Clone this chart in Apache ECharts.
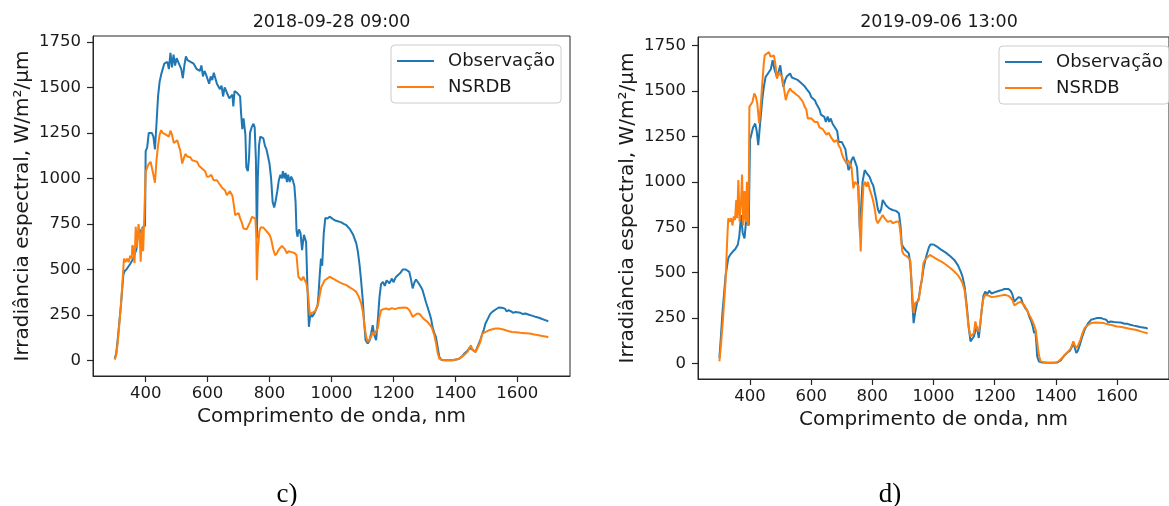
<!DOCTYPE html>
<html>
<head>
<meta charset="utf-8">
<script src="https://cdn.jsdelivr.net/npm/echarts@6/dist/echarts.min.js"></script>
<style>
html,body{margin:0;padding:0;background:#fff;}
#chart{width:1169px;height:506px;}
</style>
</head>
<body>
<div id="chart"></div>
<script>
// ---- Data ----
const titles = ['2018-09-28 09:00', '2019-09-06 13:00'];
const seriesNames = ['Observação', 'NSRDB'];
const panelLabels = ['c)', 'd)'];
const xTicks = [400, 600, 800, 1000, 1200, 1400, 1600];
const yTicks = [0, 250, 500, 750, 1000, 1250, 1500, 1750];

// Panel c) Observação
const obsC_nm = [300,305,310,320,328,332,340,350,360,370,375,380,385,390,395,398,400,405,410,415,420,425,430,435,440,445,450,455,460,465,470,475,480,485,490,495,500,505,510,515,520,525,530,535,540,545,550,555,560,565,570,575,580,585,590,595,600,605,610,615,620,625,630,635,640,645,650,655,660,665,670,675,680,683,687,690,695,700,705,708,712,716,720,722,725,730,734,737,742,748,752,756,759,762,766,770,775,780,785,790,795,800,805,810,815,820,825,830,835,840,843,848,852,856,860,865,870,875,880,884,887,890,895,900,905,908,911,915,918,922,927,932,937,945,950,955,958,962,966,970,975,980,987,994,1000,1010,1020,1030,1040,1048,1060,1070,1080,1085,1090,1095,1101,1105,1110,1117,1123,1128,1133,1138,1144,1150,1155,1160,1166,1172,1178,1187,1195,1200,1208,1215,1222,1230,1235,1240,1246,1251,1256,1262,1268,1273,1277,1283,1290,1294,1300,1305,1310,1318,1322,1326,1332,1337,1342,1348,1355,1370,1390,1410,1420,1430,1440,1445,1450,1455,1460,1465,1470,1475,1480,1487,1492,1497,1505,1512,1519,1530,1540,1550,1560,1565,1572,1580,1587,1594,1600,1610,1618,1626,1640,1650,1658,1670,1680,1690,1700];
const obsC_val = [10,40,120,300,470,490,505,530,560,610,700,720,700,730,720,740,1150,1170,1250,1260,1250,1230,1160,1300,1450,1530,1570,1600,1630,1620,1640,1600,1690,1610,1680,1620,1660,1640,1630,1600,1550,1620,1670,1650,1660,1640,1650,1630,1620,1600,1610,1590,1620,1560,1590,1570,1560,1520,1560,1540,1580,1550,1520,1530,1490,1510,1450,1500,1480,1470,1440,1430,1460,1395,1480,1490,1470,1480,1450,1360,1270,1330,1340,1240,1060,1040,1120,1250,1280,1300,1280,1100,670,1000,1180,1230,1228,1220,1180,1160,1120,1080,1000,870,840,880,930,990,1020,1000,1040,1000,1030,980,1020,980,1010,990,960,870,715,680,720,700,606,650,690,700,650,420,185,260,240,260,270,300,360,470,560,520,700,782,780,790,780,770,765,760,750,743,720,690,643,600,534,450,331,220,112,93,110,150,194,140,112,230,350,420,432,410,440,424,450,430,459,470,480,500,505,500,495,487,450,396,430,445,450,420,400,386,350,320,294,250,225,185,150,130,80,20,3,2,2,8,20,40,55,70,75,60,55,47,70,90,110,148,170,203,230,255,267,280,291,290,285,270,276,270,262,267,260,262,255,258,250,245,240,235,228,222,216];

// Panel c) NSRDB
const nsrC_nm = [300,305,310,320,327,330,335,340,345,350,355,357,361,364,368,372,375,377,381,384,388,392,396,400,405,410,416,420,425,430,435,440,445,450,455,460,465,470,475,480,485,491,496,502,507,512,518,523,528,535,540,545,550,555,560,567,572,577,582,587,592,598,605,612,619,625,630,636,641,646,651,656,662,667,672,676,680,684,689,695,700,705,710,716,721,726,732,737,743,748,754,757,759,762,767,771,775,780,785,790,795,801,806,812,818,824,830,835,840,845,850,856,861,866,871,876,881,887,893,898,903,909,914,919,924,930,935,941,947,952,957,962,967,972,978,986,994,1005,1015,1025,1035,1048,1060,1070,1080,1088,1096,1102,1107,1112,1117,1122,1128,1133,1138,1144,1150,1155,1160,1168,1176,1185,1195,1205,1215,1225,1235,1245,1252,1258,1262,1268,1277,1285,1292,1300,1310,1318,1324,1332,1338,1343,1348,1360,1390,1410,1420,1433,1440,1445,1450,1455,1460,1465,1472,1480,1487,1495,1508,1520,1530,1540,1555,1570,1583,1595,1610,1625,1640,1655,1665,1680,1695,1700];
const nsrC_val = [5,30,100,300,480,560,540,560,540,575,560,633,620,534,734,620,610,749,680,542,730,600,590,1036,1060,1080,1091,1060,1020,976,1100,1180,1240,1265,1250,1260,1240,1250,1230,1262,1240,1194,1200,1210,1180,1150,1082,1110,1134,1120,1110,1115,1100,1110,1095,1090,1070,1065,1055,1050,1040,1009,1010,1020,990,1000,990,975,963,950,960,935,908,915,930,920,905,862,798,805,810,780,760,725,716,720,725,760,789,790,780,700,441,600,707,730,738,730,720,710,700,688,660,610,578,590,610,620,630,633,610,588,600,606,595,600,590,578,460,450,441,460,450,423,370,249,260,258,270,290,313,360,404,420,441,450,460,450,440,430,422,414,400,390,377,350,313,260,185,130,102,110,130,157,140,130,180,240,276,282,286,280,288,282,288,290,291,288,275,255,240,250,258,255,240,225,212,195,180,139,90,40,11,2,2,8,20,38,50,60,84,60,55,47,70,100,148,155,166,172,176,176,170,162,157,155,152,150,148,143,140,135,130,128];

// Panel d) Observação
const obsD_nm = [300,305,310,320,329,336,344,352,360,365,371,376,382,387,392,396,400,405,410,417,422,427,433,440,445,451,456,462,468,474,480,488,494,499,504,509,515,520,525,531,537,544,550,557,563,570,577,584,590,595,600,606,612,617,621,627,632,638,643,648,654,659,664,670,675,680,685,690,695,700,706,712,717,722,727,732,738,744,750,754,758,760,763,768,775,781,787,791,797,803,808,813,818,823,829,834,839,845,850,855,861,866,871,877,882,887,892,896,900,904,908,913,919,924,928,932,935,940,946,952,957,962,967,972,978,985,990,994,1000,1010,1018,1026,1040,1055,1068,1080,1088,1095,1102,1106,1110,1115,1121,1126,1132,1137,1142,1148,1152,1158,1163,1169,1175,1182,1190,1196,1205,1215,1225,1232,1238,1245,1252,1258,1264,1270,1278,1286,1292,1300,1307,1313,1320,1325,1329,1333,1336,1339,1345,1355,1380,1405,1415,1422,1430,1438,1446,1452,1457,1461,1467,1472,1478,1485,1490,1494,1500,1507,1515,1525,1535,1547,1555,1565,1572,1579,1590,1600,1612,1625,1635,1643,1655,1665,1675,1685,1696,1700];
const obsD_val = [30,150,280,480,580,600,616,630,653,700,817,720,689,780,781,760,1230,1240,1300,1321,1280,1202,1320,1450,1520,1578,1590,1605,1620,1670,1620,1578,1610,1642,1580,1523,1560,1580,1570,1597,1575,1570,1580,1560,1555,1540,1530,1514,1520,1490,1468,1470,1450,1430,1422,1400,1370,1380,1358,1330,1360,1330,1349,1320,1310,1294,1280,1220,1230,1220,1212,1180,1120,1065,1080,1120,1138,1130,1080,973,780,700,850,1000,1065,1050,1040,1028,1000,980,940,900,850,827,850,900,891,870,860,854,860,845,850,840,835,827,760,660,643,640,625,620,607,550,442,300,222,280,332,360,420,460,520,561,600,640,655,662,655,645,635,625,610,590,570,540,510,478,420,360,295,200,121,125,148,180,203,140,200,300,370,396,380,400,385,387,395,400,405,410,414,410,400,380,340,350,365,360,330,305,290,258,230,200,167,180,120,38,10,5,3,5,15,30,48,60,70,90,112,90,57,70,100,140,165,185,205,225,240,245,250,250,245,240,225,231,228,226,225,218,218,213,208,205,200,198,195,190];

// Panel d) NSRDB
const nsrD_nm = [300,305,312,320,326,329,334,338,343,347,351,355,358,362,366,371,374,378,382,386,390,393,396,398,403,408,414,419,424,430,435,440,445,448,454,462,467,472,478,483,488,494,500,505,510,517,523,531,537,545,552,560,567,573,579,584,589,595,600,606,612,617,621,627,632,638,643,650,657,664,670,675,680,685,690,696,701,706,711,716,721,727,732,738,743,749,754,758,762,766,771,776,781,786,791,797,802,808,813,818,824,829,834,840,845,850,855,861,866,871,877,882,887,892,898,903,909,914,919,924,930,935,940,946,951,956,961,967,972,978,988,996,1005,1015,1026,1040,1055,1068,1080,1088,1095,1102,1106,1110,1115,1121,1126,1132,1137,1142,1148,1153,1158,1163,1169,1175,1182,1190,1196,1205,1215,1225,1232,1238,1245,1252,1258,1264,1270,1278,1285,1291,1297,1305,1313,1320,1327,1334,1339,1344,1350,1370,1395,1409,1420,1430,1440,1448,1453,1457,1462,1467,1473,1480,1487,1494,1500,1508,1515,1530,1545,1557,1570,1585,1600,1615,1630,1645,1660,1675,1686,1696,1700];
const nsrD_val = [11,100,250,450,700,799,780,800,760,810,790,900,800,1010,780,900,1040,760,950,780,1000,760,950,1413,1420,1440,1487,1470,1430,1322,1420,1540,1650,1697,1700,1715,1690,1700,1697,1650,1569,1600,1610,1580,1570,1450,1490,1514,1500,1490,1480,1470,1455,1440,1413,1400,1349,1360,1350,1345,1330,1320,1330,1300,1310,1290,1285,1260,1270,1248,1240,1220,1230,1230,1200,1184,1150,1130,1120,1100,1120,1120,1080,964,1000,1000,980,800,616,830,980,1000,973,1000,960,930,900,850,790,772,790,800,817,800,790,780,781,785,772,781,780,775,781,720,616,600,595,588,580,570,400,277,332,340,345,350,450,552,570,580,598,590,580,570,561,545,525,506,485,465,442,400,340,277,200,148,155,167,231,190,176,220,300,355,378,370,372,365,360,368,372,375,378,378,372,362,350,320,323,335,340,341,320,295,268,245,220,185,120,50,11,3,3,11,30,48,65,80,100,121,100,85,100,130,165,195,205,215,222,225,224,222,215,210,203,200,195,190,185,178,172,167,165];

// ---- Build ----
function pairs(xs, ys) { return xs.map((x, i) => [x, ys[i]]); }

const FONT = 'DejaVu Sans';
const TXT = '#1a1a1a';
const BLUE = '#1f77b4';
const ORANGE = '#ff7f0e';

const panels = [
  { grid: { left: 93, top: 36, width: 477, height: 340 }, yMin: -85, yMax: 1782,
    series: [pairs(obsC_nm, obsC_val), pairs(nsrC_nm, nsrC_val)], legendLeft: 391, legendTop: 45, label: { x: 287 } },
  { grid: { left: 698, top: 37, width: 482, height: 342 }, yMin: -86, yMax: 1798,
    series: [pairs(obsD_nm, obsD_val), pairs(nsrD_nm, nsrD_val)], legendLeft: 999, legendTop: 46, label: { x: 890 } }
];

const option = {
  animation: false,
  backgroundColor: '#ffffff',
  textStyle: { fontFamily: FONT },
  title: panels.map((p, i) => ({
    text: titles[i],
    left: p.grid.left + p.grid.width / 2,
    top: 13,
    textAlign: 'center',
    padding: 0,
    textStyle: { fontFamily: FONT, fontSize: 17.5, fontWeight: 'normal', color: TXT }
  })),
  legend: panels.map((p) => ({
    data: seriesNames,
    orient: 'vertical',
    left: p.legendLeft,
    top: p.legendTop,
    icon: 'rect',
    itemWidth: 37,
    itemHeight: 2,
    itemGap: 8,
    padding: [7, 6, 7, 6],
    borderColor: '#cccccc',
    borderWidth: 1,
    borderRadius: 4,
    backgroundColor: 'rgba(255,255,255,0.8)',
    selectedMode: false,
    textStyle: { fontFamily: FONT, fontSize: 18, lineHeight: 18, color: TXT, padding: [0, 0, 0, 9] }
  })),
  grid: panels.map((p) => Object.assign({ show: true, borderColor: '#262626', borderWidth: 1, backgroundColor: 'transparent', containLabel: false }, p.grid)),
  xAxis: panels.map((p, i) => ({
    type: 'value', gridIndex: i, min: 230, max: 1770,
    name: 'Comprimento de onda, nm', nameLocation: 'middle', nameGap: 27,
    nameTextStyle: { fontFamily: FONT, fontSize: 20, color: TXT },
    splitLine: { show: false },
    axisLine: { show: true, onZero: false, lineStyle: { color: '#262626', width: 1 } },
    axisTick: { show: true, inside: false, length: 6, customValues: xTicks, lineStyle: { color: '#262626', width: 1.2 } },
    axisLabel: { show: true, margin: 9, customValues: xTicks, fontFamily: FONT, fontSize: 16.5, color: TXT, formatter: (v) => String(v) }
  })),
  yAxis: panels.map((p, i) => ({
    type: 'value', gridIndex: i, min: p.yMin, max: p.yMax,
    name: 'Irradiância espectral, W/m²/µm', nameLocation: 'middle', nameGap: 60,
    nameTextStyle: { fontFamily: FONT, fontSize: 20, color: TXT },
    splitLine: { show: false },
    axisLine: { show: true, onZero: false, lineStyle: { color: '#262626', width: 1 } },
    axisTick: { show: true, inside: false, length: 6, customValues: yTicks, lineStyle: { color: '#262626', width: 1.2 } },
    axisLabel: { show: true, margin: 12, customValues: yTicks, fontFamily: FONT, fontSize: 16.5, color: TXT, formatter: (v) => String(v) }
  })),
  series: [],
  graphic: panels.map((p, i) => ({
    type: 'text',
    x: p.label.x,
    y: 508,
    style: { text: panelLabels[i], fontFamily: 'Liberation Serif', fontSize: 27, fill: '#000', textAlign: 'center', textVerticalAlign: 'bottom' }
  }))
};

panels.forEach((p, i) => {
  seriesNames.forEach((name, k) => {
    option.series.push({
      name: name, type: 'line', xAxisIndex: i, yAxisIndex: i,
      data: p.series[k], showSymbol: false, symbol: 'none', smooth: false,
      clip: true,
      lineStyle: { width: 2, color: k === 0 ? BLUE : ORANGE },
      itemStyle: { color: k === 0 ? BLUE : ORANGE },
      z: k === 0 ? 2 : 3
    });
  });
});

const chart = echarts.init(document.getElementById('chart'), null, { renderer: 'canvas' });
chart.setOption(option);
</script>
</body>
</html>
